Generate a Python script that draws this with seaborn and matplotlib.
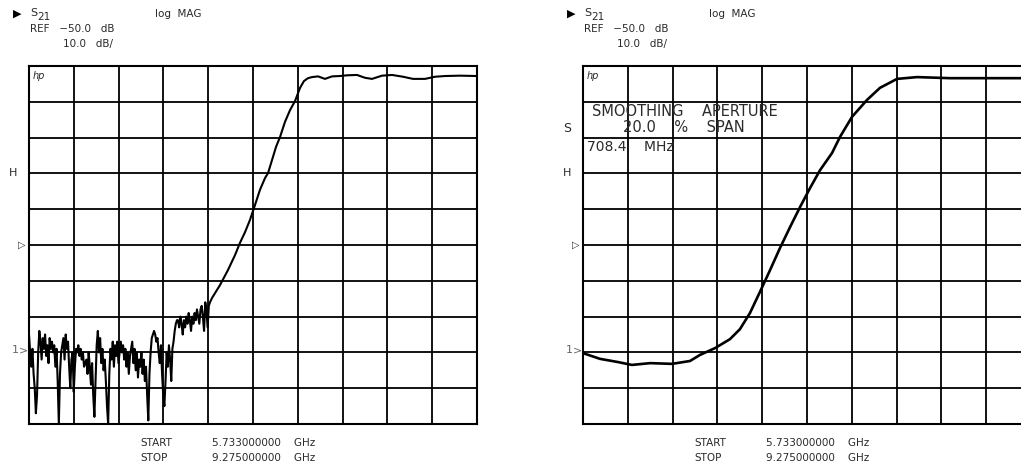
import numpy as np
import pandas as pd
import matplotlib.pyplot as plt
import seaborn as sns

# sweep / display settings (HP network analyzer screen)
F_START, F_STOP = 5.733, 9.275   # GHz
REF_DB, DB_DIV = -50.0, 10.0

# raw S21 trace, left screen
noise_db = [
    -75, -80, -84, -79, -86, -90, -97, -92, -80, -74,
    -77, -82, -76, -79, -75, -81, -78, -83, -76, -79,
    -77, -80, -78, -84, -79, -88, -100, -86, -80, -78,
    -76, -82, -75, -79, -77, -84, -90, -82, -80, -91,
    -84, -79, -80, -78, -81, -79, -82, -80, -84, -83,
    -82, -86, -80, -84, -89, -83, -92, -98, -88, -78,
    -74, -80, -76, -83, -79, -85, -82, -88, -95, -100,
    -86, -79, -82, -77, -84, -78, -81, -77, -83, -80,
    -77, -80, -78, -82, -79, -84, -80, -86, -81, -79,
    -77, -83, -79, -85, -80, -87, -82, -84, -80, -86,
    -82, -88, -84, -92, -99, -86, -80, -76, -75, -74,
    -75, -77, -76, -80, -83, -78, -86, -92, -95, -88,
    -80, -84, -78, -82, -88, -79, -77, -74, -72, -71,
]
noise_freq = np.linspace(5.733, 6.903, len(noise_db))

edge_db = [-71, -73, -70, -72, -75, -71, -73, -70, -72, -69, -71, -74, -70, -72,
           -69, -71, -68, -70, -72, -68, -67, -70, -74, -66, -68, -73, -67, -66]
edge_freq = np.linspace(6.911, 7.164, len(edge_db))

slope_freq = [7.180, 7.243, 7.306, 7.362, 7.401, 7.441, 7.480, 7.520, 7.559, 7.599,
              7.623, 7.654, 7.686, 7.718, 7.757, 7.797, 7.836, 7.876, 7.907, 7.939,
              7.970, 8.018, 8.073, 8.129, 8.192, 8.247, 8.326, 8.390, 8.445, 8.524,
              8.603, 8.690, 8.769, 8.864, 8.943, 9.022, 9.141, 9.275]
slope_db = [-64.8, -61.2, -57.0, -52.8, -49.4, -46.4, -43.0, -38.8, -34.6, -31.3,
            -29.9, -26.3, -22.6, -19.8, -15.6, -12.3, -9.8, -6.1, -4.2, -3.4,
            -3.1, -2.9, -3.6, -2.9, -2.8, -2.6, -2.5, -3.3, -3.6, -2.7,
            -2.5, -3.0, -3.6, -3.6, -3.0, -2.8, -2.7, -2.8]

# smoothed trace (20 % aperture), right screen
smooth_freq = [5.733, 5.867, 6.010, 6.120, 6.263, 6.437, 6.579, 6.658, 6.777, 6.895,
               6.974, 7.053, 7.132, 7.212, 7.291, 7.370, 7.449, 7.528, 7.607, 7.702,
               7.765, 7.860, 7.978, 8.081, 8.216, 8.374, 8.635, 9.030, 9.275]
smooth_db = [-80.2, -81.8, -82.7, -83.5, -83.0, -83.2, -82.4, -80.7, -78.8, -76.3,
             -73.5, -69.0, -63.1, -57.0, -50.8, -45.0, -39.4, -34.1, -29.1, -24.3,
             -19.8, -14.2, -9.5, -6.1, -3.6, -3.1, -3.4, -3.4, -3.4]

raw = pd.DataFrame({
    'freq': np.concatenate([noise_freq, edge_freq, slope_freq]),
    'db': noise_db + edge_db + slope_db,
})
smooth = pd.DataFrame({'freq': smooth_freq, 'db': smooth_db})

W, H = 1021, 465
sns.set_style('white')
plt.rcParams['font.family'] = ['DejaVu Sans']
fig = plt.figure(figsize=(W / 100, H / 100), dpi=100)

TXT = '#2a2a2a'


def px(x, y):
    return x / W, 1 - y / H


def screen(x0, data, lw):
    ax = fig.add_axes([x0 / W, (H - 424) / H, 448 / W, 358 / H])
    sns.lineplot(data=data, x='freq', y='db', ax=ax, color='black', lw=lw,
                 sort=False, estimator=None)
    ax.set_xlim(F_START, F_STOP)
    ax.set_ylim(REF_DB - 5 * DB_DIV, REF_DB + 5 * DB_DIV)
    ax.set_xticks(np.linspace(F_START, F_STOP, 11))
    ax.set_yticks(np.arange(-100, 1, 10))
    ax.tick_params(length=0, labelbottom=False, labelleft=False)
    ax.grid(True, color='black', lw=1.3)
    for s in ax.spines.values():
        s.set_color('black')
        s.set_linewidth(1.5)
    ax.set_xlabel('')
    ax.set_ylabel('')
    ax.text(0.008, 0.985, 'hp', transform=ax.transAxes, fontsize=7,
            style='italic', color=TXT, va='top')
    return ax


def header(dx):
    fig.text(*px(13 + dx, 14), '\u25b6', fontsize=8, color='black', va='center')
    fig.text(*px(30 + dx, 13), 'S', fontsize=8, color=TXT, va='center')
    fig.text(*px(37 + dx, 17), '21', fontsize=7.5, color=TXT, va='center')
    fig.text(*px(155 + dx, 14), 'log  MAG', fontsize=7.5, color=TXT, va='center')
    fig.text(*px(30 + dx, 29), 'REF   \u221250.0   dB', fontsize=7.5, color=TXT, va='center')
    fig.text(*px(63 + dx, 44), '10.0   dB/', fontsize=7.5, color=TXT, va='center')
    fig.text(*px(9 + dx, 173), 'H', fontsize=8, color=TXT, va='center')
    fig.text(*px(18 + dx, 245), '\u25b7', fontsize=7, color=TXT, va='center')
    fig.text(*px(12 + dx, 350), '1', fontsize=8, color='#666666', va='center')
    fig.text(*px(19 + dx, 350), '>', fontsize=8, color='#666666', va='center')
    fig.text(*px(140 + dx, 443), 'START', fontsize=7.5, color=TXT, va='center')
    fig.text(*px(140 + dx, 458), 'STOP', fontsize=7.5, color=TXT, va='center')
    fig.text(*px(212 + dx, 443), '5.733000000    GHz', fontsize=7.5, color=TXT, va='center')
    fig.text(*px(212 + dx, 458), '9.275000000    GHz', fontsize=7.5, color=TXT, va='center')


screen(29, raw, 1.5)
header(0)

screen(583, smooth, 1.9)
header(554)
fig.text(*px(9 + 554, 128), 'S', fontsize=9, color=TXT, va='center')
fig.text(*px(592, 112), 'SMOOTHING    APERTURE', fontsize=10.5, color=TXT, va='center')
fig.text(*px(623, 128), '20.0    %    SPAN', fontsize=10.5, color=TXT, va='center')
fig.text(*px(587, 147), '708.4    MHz', fontsize=10, color=TXT, va='center')

fig.savefig('out.png', dpi=100)
